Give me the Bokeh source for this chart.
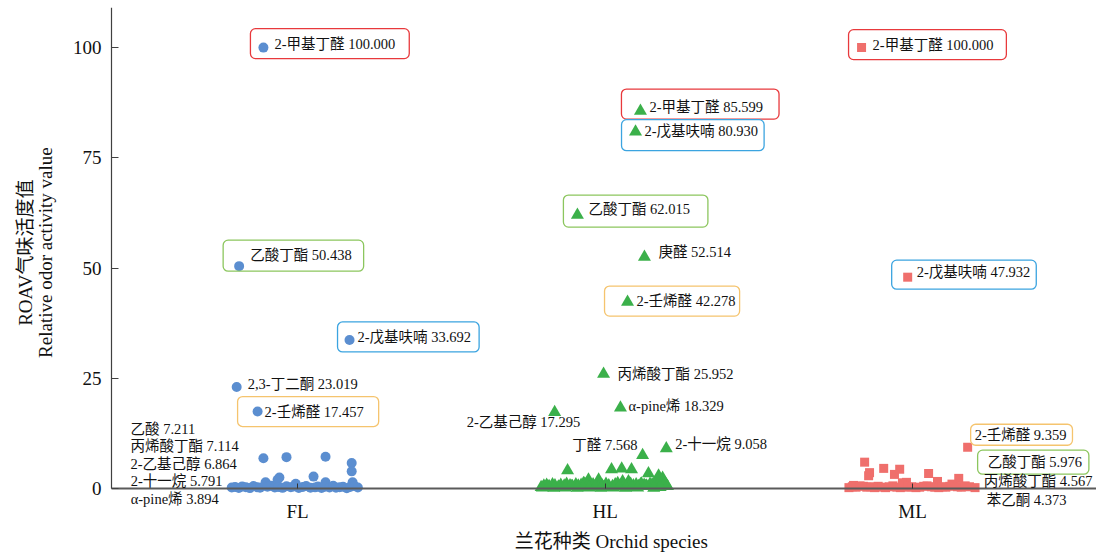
import math
from bokeh.plotting import figure
from bokeh.models import Label, FixedTicker, Range1d
from bokeh.embed import file_html
from bokeh.resources import INLINE

# ---------------------------------------------------------------- data
species = ["FL", "HL", "ML"]
y_ticks = [0, 25, 50, 75, 100]

# named compounds per species: ROAV value and horizontal jitter inside the column
fl_names = ["2-甲基丁醛", "乙酸丁酯", "2-戊基呋喃", "2,3-丁二酮", "2-壬烯醛",
            "乙酸", "丙烯酸丁酯", "2-乙基己醇", "2-十一烷", "α-pine烯"]
fl_roav = [100.000, 50.438, 33.692, 23.019, 17.457, 7.211, 7.114, 6.864, 5.791, 3.894]
fl_jit = [-0.111, -0.190, 0.169, -0.198, -0.130, 0.091, -0.036, -0.111, 0.176, 0.176]

hl_names = ["2-甲基丁醛", "2-戊基呋喃", "乙酸丁酯", "庚醛", "2-壬烯醛",
            "丙烯酸丁酯", "α-pine烯", "2-乙基己醇", "2-十一烷", "丁醛"]
hl_roav = [85.599, 80.930, 62.015, 52.514, 42.278, 25.952, 18.329, 17.295, 9.058, 7.568]
hl_jit = [0.115, 0.099, -0.090, 0.128, 0.073, -0.005, 0.050, -0.164, 0.199, 0.122]

ml_names = ["2-甲基丁醛", "2-戊基呋喃", "2-壬烯醛", "乙酸丁酯", "丙烯酸丁酯", "苯乙酮"]
ml_roav = [100.000, 47.932, 9.359, 5.976, 4.567, 4.373]
ml_jit = [-0.166, -0.016, 0.179, -0.156, -0.094, -0.042]

# remaining (unnamed) compounds
fl_rest_roav = [2.7, 2.5, 2.0, 1.4, 1.1, 1.4, 1.4,
                0.21, 0.35, 0.12, 0.48, 0.27, 0.09, 0.55, 0.31, 0.18, 0.42,
                0.63, 0.24, 0.36, 0.15, 0.52, 0.28, 0.44, 0.11, 0.33, 0.58,
                0.19, 0.26, 0.47, 0.13, 0.38, 0.22, 0.61, 0.16, 0.29, 0.41,
                0.08, 0.34, 0.57, 0.25]
fl_rest_jit = [0.052, -0.059, -0.065, -0.104, -0.006, 0.091, 0.179,
               -0.214, -0.203, -0.191, -0.180, -0.168, -0.155, -0.143, -0.131, -0.122, -0.098,
               -0.086, -0.074, -0.063, -0.049, -0.036, -0.022, -0.013, 0.004, 0.017, 0.028,
               0.042, 0.057, 0.066, 0.078, 0.089, 0.104, 0.116, 0.125, 0.137, 0.148,
               0.160, 0.171, 0.185, 0.196]

hl_rest_roav = [4.1, 4.3, 4.5, 4.3, 3.4, 2.0, 2.0, 1.6, 1.6, 1.2, 2.9, 2.4,
                0.3, 0.6, 0.8, 0.5, 0.9, 0.7, 0.4, 0.8, 0.6, 1.0,
                0.7, 0.5, 0.9, 0.6, 0.8, 1.1, 0.5, 0.7, 0.9, 0.4,
                0.8, 0.6, 1.0, 0.7, 0.5, 0.9, 1.2, 0.6, 0.8, 0.4,
                1.0, 0.7, 0.9, 0.5, 1.1, 0.8, 0.6, 1.0, 0.9, 1.3,
                0.7, 1.4, 1.1, 0.8, 1.2, 0.5, 0.3, 0.9,
                0.2, 0.4, 0.1, 0.3, 0.2, 0.5, 0.1, 0.3, 0.2, 0.4,
                0.1, 0.3, 0.2, 0.4, 0.1, 0.3, 0.2, 0.5, 0.1, 0.3]
hl_rest_jit = [-0.122, 0.021, 0.054, 0.086, 0.141, -0.054, -0.021, 0.057, 0.076, -0.070, 0.174, 0.187,
               -0.208, -0.199, -0.190, -0.182, -0.171, -0.163, -0.152, -0.144, -0.133, -0.125,
               -0.114, -0.106, -0.095, -0.087, -0.078, -0.066, -0.058, -0.047, -0.039, -0.028,
               -0.017, -0.009, 0.003, 0.012, 0.024, 0.033, 0.041, 0.049, 0.062, 0.071,
               0.083, 0.092, 0.101, 0.109, 0.118, 0.127, 0.135, 0.146, 0.153, 0.161,
               0.168, 0.176, 0.182, 0.190, 0.196, 0.203, -0.004, 0.115,
               -0.204, -0.186, -0.167, -0.148, -0.129, -0.110, -0.091, -0.072, -0.052, -0.033,
               -0.013, 0.007, 0.028, 0.046, 0.067, 0.087, 0.106, 0.131, 0.158, 0.179]

ml_rest_roav = [3.6, 2.9, 3.2, 1.4, 3.4, 1.6, 2.3, 0.7, 1.3, 1.0,
                0.2, 0.4, 0.3, 0.6, 0.5, 0.3, 0.4, 0.2, 0.5, 0.3,
                0.2, 0.4, 0.6, 0.3, 0.2, 0.5, 0.3, 0.4, 0.2, 0.3,
                0.5, 0.6, 0.4, 0.3, 0.2, 0.4, 0.3, 0.5, 0.7, 0.4,
                0.3, 0.6, 0.4, 0.2]
ml_rest_jit = [-0.140, -0.143, -0.059, -0.020, 0.052, 0.081, 0.150, -0.192, -0.033, 0.128,
               -0.207, -0.196, -0.184, -0.171, -0.160, -0.149, -0.136, -0.124, -0.112, -0.101,
               -0.088, -0.076, -0.064, -0.051, -0.040, -0.027, -0.014, -0.003, 0.011, 0.023,
               0.036, 0.047, 0.061, 0.072, 0.085, 0.097, 0.108, 0.121, 0.134, 0.146,
               0.158, 0.171, 0.185, 0.203]

# ---------------------------------------------------------------- styling
SERIF = "'Liberation Serif', 'Noto Sans CJK SC'"
BOX = {"red": "#E8393C", "blue": "#3BA4E0", "green": "#8CC65E", "orange": "#F5C46E"}

# label placement: (dx px, dy px up, align, box colour, (pad left, right, top, bottom))
fl_layout = [
    (11, 4, "left", "red", (24, 14, 7, 7)),
    (11, 11, "left", "green", (27, 12, 7, 8)),
    (8, 3, "left", "blue", (20, 8, 7, 7)),
    (11, 3, "left", None, None),
    (7, 0, "left", "orange", (27, 15, 7, 7)),
    (-195, 28, "left", None, None),
    (-156, 11, "left", None, None),
    (-133, -6, "left", None, None),
    (-221, -18, "left", None, None),
    (-221, -28, "left", None, None),
]
hl_layout = [
    (9, 4, "left", "red", (28, 16, 10, 4)),
    (9, 1, "left", "blue", (23, 6, 3, 12)),
    (11, 6, "left", "green", (25, 18, 6, 10)),
    (14, 5, "left", None, None),
    (9, 1, "left", "orange", (32, 4, 7, 7)),
    (14, 0, "left", None, None),
    (8, 2, "left", None, None),
    (-88, -10, "left", None, None),
    (9, 5, "left", None, None),
    (-5, 10, "right", None, None),
]
ml_layout = [
    (11, 3, "left", "red", (24, 13, 7, 7)),
    (9, 5, "left", "blue", (25, 6, 4, 9)),
    (7, 12, "left", "orange", (4, 6, 3, 2)),
    (123, 0, "left", "green", (10, 7, 4, 4)),
    (100, -13, "left", None, None),
    (87, -31, "left", None, None),
]

# The frame fills the whole canvas; both axes are pinned inside it
# (value axis at the left edge of the category span, category axis at ROAV = 0).
X0, X1 = -0.605, 2.598
p = figure(width=1096, height=556, output_backend="svg", toolbar_location=None,
           x_range=Range1d(-0.966, X1), y_range=Range1d(-15.42, 109.1),
           min_border_left=0, min_border_right=0, min_border_top=7, min_border_bottom=0,
           background_fill_color="white", border_fill_color="white")
p.outline_line_color = None
p.grid.visible = False

series = [
    (0, fl_names, fl_roav, fl_jit, fl_rest_roav, fl_rest_jit, fl_layout, "circle", 10, "#5B8ED0"),
    (1, hl_names, hl_roav, hl_jit, hl_rest_roav, hl_rest_jit, hl_layout, "triangle", 13, "#3BB04A"),
    (2, ml_names, ml_roav, ml_jit, ml_rest_roav, ml_rest_jit, ml_layout, "square", 9, "#EF6F6C"),
]

for idx, names, roav, jit, r_roav, r_jit, layout, marker, size, color in series:
    xs = [idx + j for j in r_jit] + [idx + j for j in jit]
    ys = list(r_roav) + list(roav)
    p.scatter(xs, ys, marker=marker, size=size, fill_color=color, line_color=None)
    for name, v, j, (dx, dy, align, box, pads) in zip(names, roav, jit, layout):
        kw = dict(x=idx + j, y=v, text=f"{name} {v:.3f}", text_font=SERIF,
                  text_font_size="14.5px", text_color="#111111",
                  text_align=align, text_baseline="middle")
        if box is None:
            kw.update(x_offset=dx, y_offset=dy)
        else:
            pl, pr, pt, pb = pads
            kw.update(x_offset=dx - pl, y_offset=dy + (pt - pb) / 2,
                      padding=dict(left=pl, right=pr, top=pt, bottom=pb),
                      border_line_color=BOX[box], border_line_width=1.3,
                      border_radius=5, background_fill_color=None)
        p.add_layout(Label(**kw))

# x axis
xa = p.xaxis[0]
xa.ticker = FixedTicker(ticks=[0, 1, 2])
xa.major_label_overrides = {0: species[0], 1: species[1], 2: species[2]}
xa.fixed_location = 0
xa.bounds = (X0, X1)
xa.axis_line_color = "#5A5A5A"
xa.axis_line_width = 2
xa.major_tick_in = 5
xa.major_tick_out = 0
xa.major_tick_line_color = "#333333"
xa.minor_tick_line_color = None
xa.major_label_standoff = 12
xa.major_label_text_font = SERIF
xa.major_label_text_font_size = "19px"
xa.major_label_text_color = "#111111"

p.add_layout(Label(x=1.02, y=-12, text="兰花种类 Orchid species", text_font=SERIF,
                   text_font_size="19px", text_color="#111111",
                   text_align="center", text_baseline="middle"))

# y axis
ya = p.yaxis[0]
ya.ticker = FixedTicker(ticks=y_ticks)
ya.fixed_location = X0
ya.bounds = (0, 109.1)
ya.axis_line_color = "#404040"
ya.axis_line_width = 1.2
ya.major_tick_in = 7
ya.major_tick_out = 0
ya.major_tick_line_color = "#404040"
ya.minor_tick_line_color = None
ya.major_label_standoff = 10
ya.major_label_text_font = SERIF
ya.major_label_text_font_size = "19px"
ya.major_label_text_color = "#111111"

# two-line y title, each line centred on the value axis span
for txt, xpos in [("ROAV气味活度值", -0.886), ("Relative odor activity value", -0.821)]:
    p.add_layout(Label(x=xpos, y=53.5, text=txt, angle=math.pi / 2,
                       text_font=SERIF, text_font_size="19px", text_color="#111111",
                       text_align="center", text_baseline="middle"))

open("out.html", "w").write(file_html(p, INLINE))
